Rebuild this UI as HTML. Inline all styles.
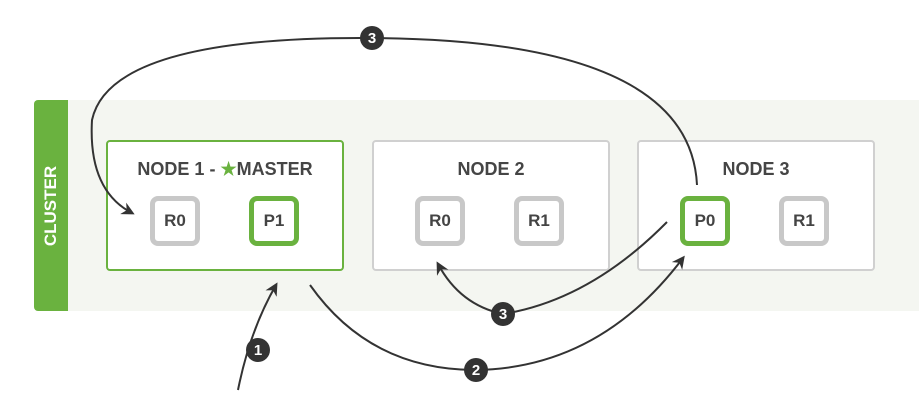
<!DOCTYPE html>
<html><head><style>
body{margin:0;width:919px;height:408px;background:#fff;overflow:hidden;position:relative;font-family:"Liberation Sans",sans-serif}
.abs{position:absolute}
.node{position:absolute;top:140px;height:131px;width:238px;background:#fff;border:2px solid #d0d0d0;border-radius:4px;box-sizing:border-box}
.t{position:absolute;top:17px;left:0;right:0;text-align:center;font-weight:bold;font-size:18px;color:#454545}
.s{position:absolute;top:196px;width:50px;height:50px;box-sizing:border-box;border:5px solid #c8c8c8;border-radius:8px;background:#fff;font-weight:bold;font-size:17px;color:#444;text-align:center;line-height:40px}
.g{border-color:#6ab23f}
</style></head><body>
<div class="abs" style="left:68px;top:100px;width:851px;height:211px;background:#f4f6f1"></div>
<div class="abs" style="left:34px;top:100px;width:34px;height:211px;background:#6ab23f;border-radius:4px 0 0 4px"></div>
<div class="abs" style="left:34px;top:100px;width:34px;height:211px;display:flex;align-items:center;justify-content:center"><span style="transform:rotate(-90deg);color:#fff;font-weight:bold;font-size:17px;white-space:nowrap">CLUSTER</span></div>
<div class="node" style="left:106px;border-color:#6ab23f"><div class="t">NODE 1 - <span style="color:#6ab23f">★</span>MASTER</div></div>
<div class="node" style="left:372px"><div class="t">NODE 2</div></div>
<div class="node" style="left:637px"><div class="t">NODE 3</div></div>
<div class="s" style="left:150px">R0</div>
<div class="s g" style="left:249px">P1</div>
<div class="s" style="left:415px">R0</div>
<div class="s" style="left:514px">R1</div>
<div class="s g" style="left:680px">P0</div>
<div class="s" style="left:779px">R1</div>
<svg class="abs" style="left:0;top:0" width="919" height="408">
<defs><marker id="a" markerWidth="13" markerHeight="13" refX="10" refY="6.5" orient="auto" markerUnits="userSpaceOnUse"><path d="M0,0 L13,6.5 L0,13 L4,6.5z" fill="#333"/></marker></defs>
<g fill="none" stroke="#333" stroke-width="2">
<path d="M238,390 Q250,330 276,285" marker-end="url(#a)"/>
<path d="M310,285 Q370,370 476,370 Q600,368 683,258" marker-end="url(#a)"/>
<path d="M697,185 Q690,40 372,38 Q110,36 92,120 Q88,190 132,213" marker-end="url(#a)"/>
<path d="M667,222 Q590,300 503,314 Q460,305 438,264" marker-end="url(#a)"/>
</g>
<g font-family="Liberation Sans" font-weight="bold" font-size="15" fill="#fff" text-anchor="middle">
<circle cx="258" cy="350" r="12" fill="#333"/><text x="258" y="355">1</text>
<circle cx="476" cy="370" r="12" fill="#333"/><text x="476" y="375">2</text>
<circle cx="372" cy="38" r="12" fill="#333"/><text x="372" y="43">3</text>
<circle cx="503" cy="314" r="12" fill="#333"/><text x="503" y="319">3</text>
</g>
</svg>
</body></html>
